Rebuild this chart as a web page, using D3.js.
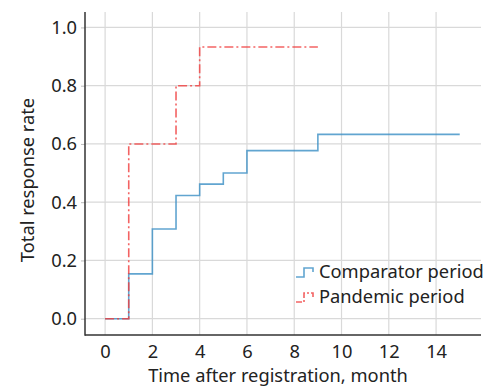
<!DOCTYPE html>
<html>
<head>
<meta charset="utf-8">
<script src="https://cdn.jsdelivr.net/npm/d3@7"></script>
<style>
  body { margin: 0; background: #fff; }
  svg text { font-family: "Noto Sans", "Open Sans", sans-serif; fill: #222; }
</style>
</head>
<body>
<svg width="498" height="387"></svg>
<script>
// step data
var comparatorTime = [0, 1, 2, 3, 4, 5, 6, 9, 15];
var comparatorRate = [0, 0.154, 0.308, 0.423, 0.462, 0.5, 0.577, 0.633, 0.633];
var pandemicTime = [0, 1, 3, 4, 9];
var pandemicRate = [0, 0.6, 0.8, 0.933, 0.933];
var xTicks = [0, 2, 4, 6, 8, 10, 12, 14];
var yTicks = [0, 0.2, 0.4, 0.6, 0.8, 1.0];
var seriesNames = ['Comparator period', 'Pandemic period'];

var svg = d3.select('svg');
var plot = {l: 85, r: 481, t: 12, b: 335};
var fontSize = '18.3px';

var xScale = d3.scaleLinear().domain([-0.85, 15.9]).range([plot.l, plot.r]);
var yScale = d3.scaleLinear().domain([-0.056, 1.053]).range([plot.b, plot.t]);

// gridlines
svg.append('g').selectAll('line').data(xTicks).enter().append('line')
    .attr('x1', function(d){ return xScale(d); })
    .attr('x2', function(d){ return xScale(d); })
    .attr('y1', plot.t).attr('y2', plot.b)
    .attr('stroke', '#d9d9d9').attr('stroke-width', 1.2);
svg.append('g').selectAll('line').data(yTicks).enter().append('line')
    .attr('y1', function(d){ return yScale(d); })
    .attr('y2', function(d){ return yScale(d); })
    .attr('x1', plot.l).attr('x2', plot.r)
    .attr('stroke', '#d9d9d9').attr('stroke-width', 1.2);

// axes
var xAxis = d3.axisBottom(xScale).tickValues(xTicks).tickSize(0).tickPadding(10).tickFormat(d3.format('d'));
var yAxis = d3.axisLeft(yScale).tickValues(yTicks).tickSize(4).tickPadding(4).tickFormat(d3.format('.1f'));

var gx = svg.append('g').attr('transform', 'translate(0,' + plot.b + ')').call(xAxis);
var gy = svg.append('g').attr('transform', 'translate(' + plot.l + ',0)').call(yAxis);
gx.select('.domain').remove();
gy.select('.domain').remove();
gy.selectAll('.tick line').attr('stroke', '#bbb');
[gx, gy].forEach(function(g){
    g.selectAll('text').style('font-size', fontSize).attr('fill', '#222');
});

svg.append('line').attr('x1', plot.l).attr('x2', plot.l).attr('y1', plot.t).attr('y2', plot.b + 0.75)
    .attr('stroke', '#333').attr('stroke-width', 1.5);
svg.append('line').attr('x1', plot.l).attr('x2', plot.r).attr('y1', plot.b).attr('y2', plot.b)
    .attr('stroke', '#333').attr('stroke-width', 1.5);

svg.append('text').text('Time after registration, month')
    .attr('x', 278).attr('y', 382)
    .attr('text-anchor', 'middle').style('font-size', fontSize);
svg.append('text').text('Total response rate')
    .attr('transform', 'translate(' + [34, 180] + ')rotate(-90)')
    .attr('text-anchor', 'middle').style('font-size', fontSize);

// step lines
var line = d3.line()
    .x(function(d){ return xScale(d[0]); })
    .y(function(d){ return yScale(d[1]); })
    .curve(d3.curveStepAfter);

svg.append('path')
    .datum(d3.zip(comparatorTime, comparatorRate))
    .attr('d', line)
    .attr('fill', 'none')
    .attr('stroke', '#3a8fc4').attr('stroke-opacity', 0.8)
    .attr('stroke-width', 1.6);

svg.append('path')
    .datum(d3.zip(pandemicTime, pandemicRate))
    .attr('d', line)
    .attr('fill', 'none')
    .attr('stroke', '#f03c3c').attr('stroke-opacity', 0.8)
    .attr('stroke-width', 1.6)
    .attr('stroke-dasharray', '9,3,2,3');

// legend
var legend = svg.append('g').attr('transform', 'translate(296,272)');
var colors = ['#3a8fc4', '#f03c3c'];
seriesNames.forEach(function(name, i){
    var g = legend.append('g').attr('transform', 'translate(0,' + i * 25 + ')');
    g.append('path')
        .attr('d', 'M0,5 H8 V-4 H17 V0')
        .attr('fill', 'none')
        .attr('stroke', colors[i]).attr('stroke-opacity', 0.8)
        .attr('stroke-width', 1.6)
        .attr('stroke-dasharray', i === 1 ? '6,2,2,2' : null);
    g.append('text').text(name)
        .attr('x', 23).attr('y', 6)
        .style('font-size', fontSize);
});
</script>
</body>
</html>
